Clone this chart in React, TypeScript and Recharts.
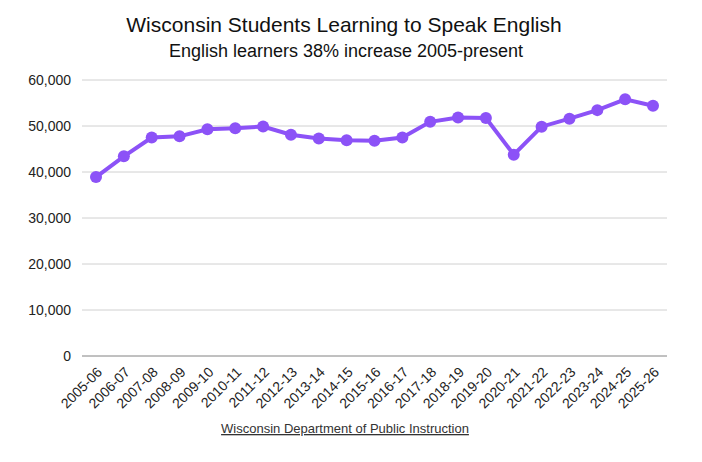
import { LineChart, Line, XAxis, YAxis, CartesianGrid } from 'recharts';

const years = [
  '2005-06', '2006-07', '2007-08', '2008-09', '2009-10', '2010-11', '2011-12',
  '2012-13', '2013-14', '2014-15', '2015-16', '2016-17', '2017-18', '2018-19',
  '2019-20', '2020-21', '2021-22', '2022-23', '2023-24', '2024-25', '2025-26',
];

const learners = [
  38900, 43400, 47500, 47750, 49300, 49500, 49900,
  48100, 47300, 46900, 46800, 47500, 50900, 51850,
  51750, 43750, 49850, 51600, 53450, 55800, 54400,
];

const yTicks = [0, 10000, 20000, 30000, 40000, 50000, 60000];

const data = years.map((year, i) => ({ year, learners: learners[i] }));

const FONT = '"Liberation Sans", Arial, sans-serif';
const PURPLE = '#8c52f7';

function YearTick(props: any) {
  const { x, y, payload } = props;
  return (
    <g transform={`translate(${x + 7},${y + 9})`}>
      <text
        x={0}
        y={0}
        textAnchor="end"
        transform="rotate(-45)"
        fontSize={14}
        fontFamily={FONT}
        fill="#222"
      >
        {payload.value}
      </text>
    </g>
  );
}

export default function App() {
  return (
    <div style={{ position: 'absolute', left: 0, top: 0, width: 702, height: 462, background: '#fff' }}>
      <LineChart
        width={702}
        height={462}
        data={data}
        margin={{ top: 80, right: 35, bottom: 30, left: 10 }}
      >
        <CartesianGrid vertical={false} stroke="#d0d0d0" />
        <XAxis
          dataKey="year"
          interval={0}
          height={76}
          padding={{ left: 14, right: 14 }}
          tickLine={false}
          axisLine={{ stroke: '#9a9a9a' }}
          tick={<YearTick />}
        />
        <YAxis
          width={72}
          domain={[0, 60000]}
          ticks={yTicks}
          axisLine={false}
          tickLine={false}
          tickMargin={5}
          tickFormatter={(v: number) => v.toLocaleString('en-US')}
          tick={{ fontSize: 14, fontFamily: FONT, fill: '#222' }}
        />
        <Line
          type="linear"
          dataKey="learners"
          stroke={PURPLE}
          strokeWidth={4}
          dot={{ r: 6, fill: PURPLE, stroke: PURPLE, strokeWidth: 0 }}
          isAnimationActive={false}
        />
      </LineChart>
      <svg
        width={702}
        height={462}
        style={{ position: 'absolute', left: 0, top: 0, pointerEvents: 'none' }}
      >
        <text x={344} y={32} textAnchor="middle" fontSize={21} fontFamily={FONT} fill="#111">
          Wisconsin Students Learning to Speak English
        </text>
        <text x={346} y={57} textAnchor="middle" fontSize={18} fontFamily={FONT} fill="#111">
          English learners 38% increase 2005-present
        </text>
        <text
          x={345}
          y={433}
          textAnchor="middle"
          fontSize={13}
          fontFamily={FONT}
          fill="#333"
          textDecoration="underline"
        >
          Wisconsin Department of Public Instruction
        </text>
      </svg>
    </div>
  );
}
